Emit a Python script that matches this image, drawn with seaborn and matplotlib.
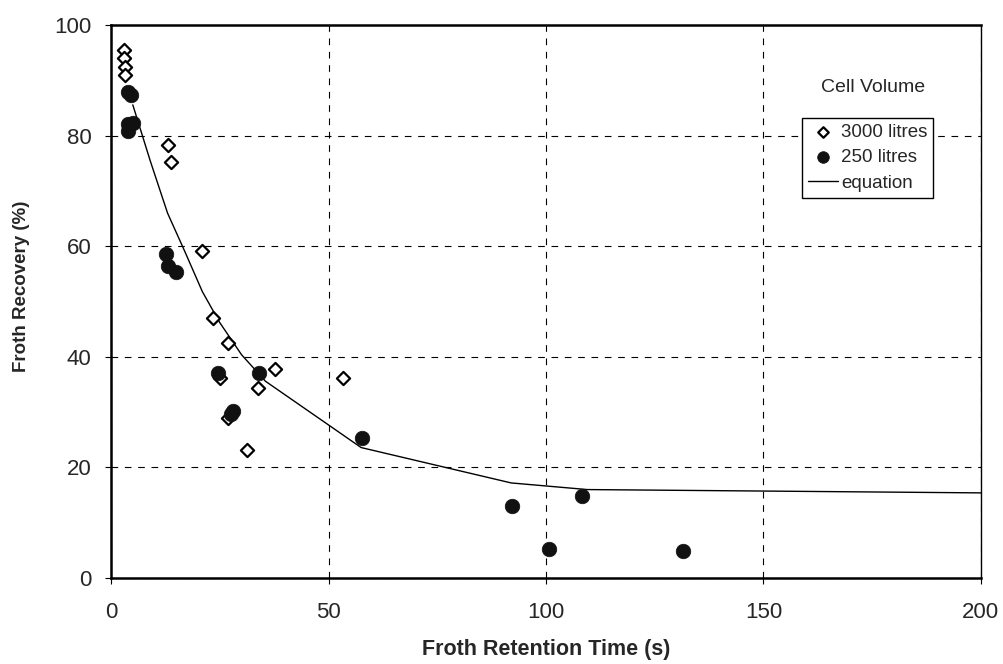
import matplotlib
matplotlib.use("Agg")
import matplotlib.pyplot as plt
import seaborn as sns
import pandas as pd

# 3000 litres cell (open diamonds)
t_3000 = [3.0, 3.0, 3.2, 3.3, 13.1, 13.8, 20.9, 23.4, 26.8, 25.0, 33.7, 37.8, 27.0, 31.2, 53.4]
r_3000 = [95.5, 94.0, 92.5, 91.0, 78.3, 75.2, 59.1, 47.1, 42.5, 36.2, 34.4, 37.8, 28.9, 23.1, 36.2]

# 250 litres cell (filled circles)
t_250 = [3.9, 4.6, 3.9, 5.0, 4.0, 12.6, 13.0, 14.9, 24.5, 34.0, 28.1, 27.6, 57.6, 92.2, 100.7, 108.3, 131.4]
r_250 = [87.9, 87.3, 82.2, 82.3, 80.8, 58.7, 56.5, 55.3, 37.0, 37.1, 30.2, 29.6, 25.3, 13.0, 5.3, 14.8, 4.9]

# equation line
t_eq = [5.0, 9.0, 13.0, 17.0, 21.0, 25.0, 30.0, 35.5, 57.5, 92.0, 109.5, 200.0]
r_eq = [85.6, 75.5, 66.0, 59.0, 51.8, 46.2, 40.4, 35.6, 23.6, 17.2, 16.0, 15.4]

sns.set_style("white")
plt.rcParams['font.family'] = ['Liberation Sans', 'DejaVu Sans']

fig = plt.figure(figsize=(10.04, 6.64), dpi=100)
ax = fig.add_axes([0.1106, 0.1295, 0.977 - 0.1106, 0.962 - 0.1295])

df3 = pd.DataFrame({"t": t_3000, "r": r_3000})
df2 = pd.DataFrame({"t": t_250, "r": r_250})
dfe = pd.DataFrame({"t": t_eq, "r": r_eq})

sns.scatterplot(data=df3, x="t", y="r", ax=ax, marker="D", s=45,
                facecolor="white", edgecolor="black", linewidth=1.6,
                label="3000 litres", zorder=4)
sns.scatterplot(data=df2, x="t", y="r", ax=ax, marker="o", s=110,
                color="#111111", edgecolor="#111111", linewidth=0.5,
                label="250 litres", zorder=5)
sns.lineplot(data=dfe, x="t", y="r", ax=ax, color="black", linewidth=1.0,
             label="equation", zorder=3, sort=False)

ax.set_xlim(0, 200)
ax.set_ylim(0, 100)
ax.set_xticks([0, 50, 100, 150, 200])
ax.set_yticks([0, 20, 40, 60, 80, 100])
ax.grid(True, color="black", linestyle=(0, (6, 6)), linewidth=0.8)
ax.set_axisbelow(True)
for name, sp in ax.spines.items():
    sp.set_visible(True)
    sp.set_color("black")
    sp.set_linewidth(1.0 if name == "right" else 1.8)

ax.tick_params(axis="both", labelsize=16, length=4, direction="out",
               color="black", left=True, bottom=True)
ax.tick_params(axis="x", pad=13)
ax.tick_params(axis="y", pad=10)
ax.set_xlabel("Froth Retention Time (s)", fontsize=15.5, fontweight="bold", labelpad=12)
ax.set_ylabel("Froth Recovery (%)", fontsize=13.5, fontweight="bold")
ax.yaxis.set_label_coords(-0.093, 0.528)

leg = ax.legend(loc="upper left", bbox_to_anchor=(802 / 1004, 1 - 118 / 664),
                bbox_transform=fig.transFigure, frameon=True,
                fontsize=13.5, fancybox=False, edgecolor="black", framealpha=1,
                handlelength=1.6, handletextpad=0.2, borderpad=0.3,
                labelspacing=0.45, borderaxespad=0, markerscale=0.8)
leg.get_frame().set_linewidth(1.0)
fig.text(873 / 1004, 1 - 87 / 664, "Cell Volume", fontsize=14,
         ha="center", va="center")

fig.savefig("out.png", dpi=100)
